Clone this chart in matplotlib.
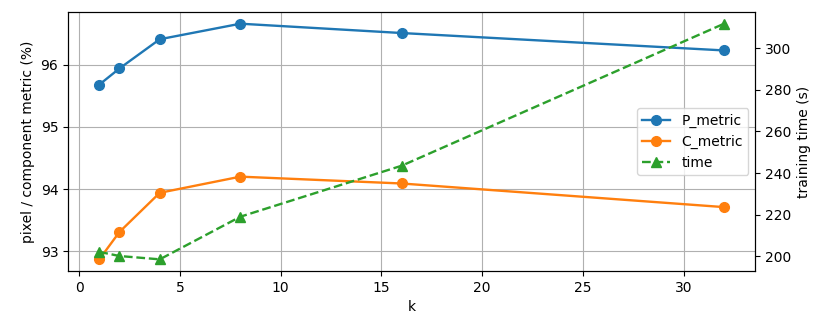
import matplotlib
matplotlib.use("Agg")
import matplotlib.pyplot as plt
from matplotlib.ticker import MultipleLocator

k = [1, 2, 4, 8, 16, 32]
p_metric = [95.68, 95.94, 96.41, 96.66, 96.51, 96.23]
c_metric = [92.87, 93.31, 93.94, 94.20, 94.09, 93.71]
train_time = [202.1, 200.1, 198.5, 219.0, 243.5, 311.8]

fig, ax1 = plt.subplots(figsize=(8.3, 3.22), dpi=100)
fig.subplots_adjust(left=0.082, right=0.91, top=0.963, bottom=0.158)

l1, = ax1.plot(k, p_metric, marker='o', ms=7, lw=1.7, color='#1f77b4', label='P_metric')
l2, = ax1.plot(k, c_metric, marker='o', ms=7, lw=1.7, color='#ff7f0e', label='C_metric')
ax1.set_xlabel('k')
ax1.set_ylabel('pixel / component metric (%)')
ax1.yaxis.set_major_locator(MultipleLocator(1))
ax1.grid(True)

ax2 = ax1.twinx()
l3, = ax2.plot(k, train_time, marker='^', ms=7, lw=1.7, linestyle='--', color='#2ca02c', label='time')
ax2.set_ylabel('training time (s)')

ax2.legend([l1, l2, l3], ['P_metric', 'C_metric', 'time'], loc='center right')

fig.savefig('out.png', dpi=100)
